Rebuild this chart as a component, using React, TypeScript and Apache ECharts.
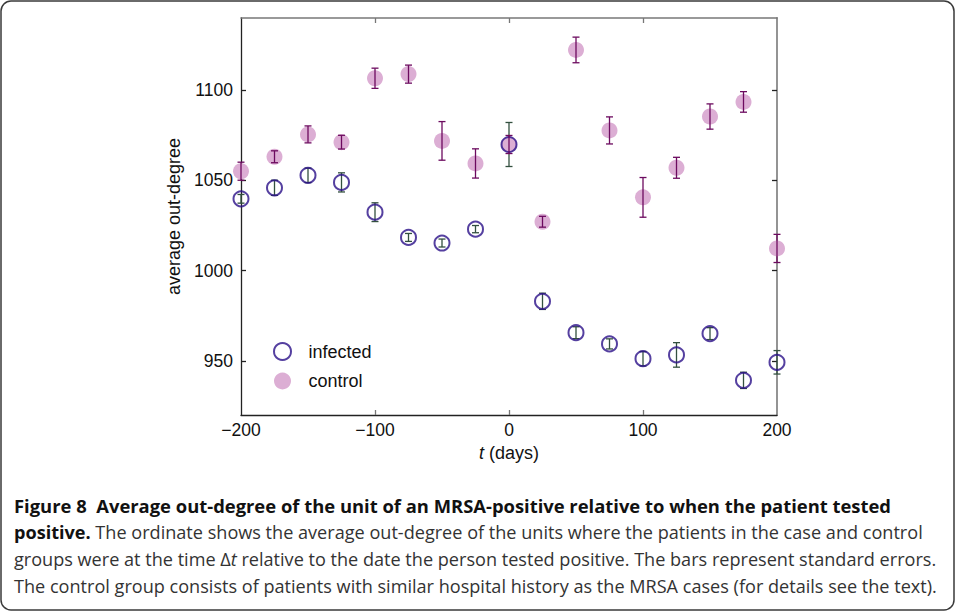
import React, { useEffect, useRef } from "react";
import * as echarts from "echarts";

const days = [-200, -175, -150, -125, -100, -75, -50, -25, 0, 25, 50, 75, 100, 125, 150, 175, 200];
const infectedMean = [1039.8, 1045.9, 1052.8, 1048.9, 1032.4, 1018.4, 1015.3, 1023.0, 1069.9, 983.0, 965.6, 959.4, 951.2, 953.3, 965.1, 939.2, 949.2];
const infectedErr = [2.4, 4.2, 4.0, 5.3, 5.2, 2.2, 2.2, 2.0, 12.2, 4.5, 3.3, 2.8, 4.0, 6.8, 3.3, 4.5, 6.5];
const controlMean = [1055.1, 1063.1, 1075.5, 1071.2, 1106.6, 1108.9, 1071.9, 1059.4, 1069.9, 1027.1, 1122.3, 1077.7, 1040.6, 1057.0, 1085.4, 1093.5, 1012.3];
const controlErr = [5.0, 3.3, 4.7, 3.8, 5.6, 5.0, 10.7, 8.1, 5.0, 3.0, 7.1, 7.5, 11.0, 5.8, 7.0, 5.7, 7.8];
const yTicks = [950, 1000, 1050, 1100];
const xInnerTicks = [-100, 0, 100];

const captionLines = [
  "Figure 8  Average out-degree of the unit of an MRSA-positive relative to when the patient tested",
  "{b|positive.} The ordinate shows the average out-degree of the units where the patients in the case and control",
  "groups were at the time Δ{i|t} relative to the date the person tested positive. The bars represent standard errors.",
  "The control group consists of patients with similar hospital history as the MRSA cases (for details see the text).",
];

const PINK = "#dcaed4";
const INDIGO = "#2a1088";
const CTRL_BAR = "#6c0a5f";
const INF_BAR = "#33503f";

function errorSeries(name: string, means: number[], errs: number[], color: string, z: number) {
  const data = days.map((d, i) => [d, means[i] - errs[i], means[i] + errs[i]]);
  return {
    type: "custom",
    name,
    z,
    silent: true,
    data,
    encode: { x: 0, y: [1, 2] },
    renderItem: (params: any, api: any) => {
      const x = api.value(0);
      const lo = api.coord([x, api.value(1)]);
      const hi = api.coord([x, api.value(2)]);
      const hw = 3.5;
      const style = { stroke: color, lineWidth: 1.3, fill: "none" };
      return {
        type: "group",
        children: [
          { type: "line", shape: { x1: lo[0], y1: lo[1], x2: hi[0], y2: hi[1] }, style },
          { type: "line", shape: { x1: lo[0] - hw, y1: lo[1], x2: lo[0] + hw, y2: lo[1] }, style },
          { type: "line", shape: { x1: hi[0] - hw, y1: hi[1], x2: hi[0] + hw, y2: hi[1] }, style },
        ],
      };
    },
  };
}

export default function App() {
  const ref = useRef<HTMLDivElement>(null);
  useEffect(() => {
    if (!ref.current) return;
    const chart = echarts.init(ref.current, undefined, { renderer: "svg" });
    const axisFont = "Liberation Sans";
    const capFont = "Open Sans";
    const capSize = 18.1;
    const option: any = {
      animation: false,
      backgroundColor: "#ffffff",
      grid: { left: 241, top: 18, right: 179, bottom: 198, containLabel: false },
      legend: {
        orient: "vertical",
        left: 268,
        top: 337,
        itemWidth: 42,
        itemHeight: 17,
        itemGap: 11,
        icon: "circle",
        data: [
          { name: "infected", itemStyle: { color: "rgba(255,255,255,0)", borderColor: INDIGO, borderWidth: 2 } },
          { name: "control", itemStyle: { color: PINK } },
        ],
        textStyle: { fontFamily: axisFont, fontSize: 18, color: "#111" },
      },
      xAxis: [
        {
          type: "value",
          min: -200,
          max: 200,
          interval: 100,
          position: "bottom",
          name: "{i|t} (days)",
          nameLocation: "middle",
          nameGap: 28,
          nameTextStyle: {
            fontFamily: axisFont,
            fontSize: 18,
            color: "#111",
            rich: { i: { fontStyle: "italic", fontFamily: axisFont, fontSize: 18, color: "#111" } },
          },
          axisLine: { onZero: false, lineStyle: { color: "#222", width: 1.3 } },
          axisTick: { inside: true, length: 5, customValues: xInnerTicks, lineStyle: { color: "#777", width: 1.3 } },
          axisLabel: {
            fontFamily: axisFont,
            fontSize: 17.5,
            color: "#111",
            margin: 6,
            formatter: (v: number) => (v < 0 ? "\u2212" + Math.abs(v) : String(v)),
          },
          splitLine: { show: false },
        },
        {
          type: "value",
          min: -200,
          max: 200,
          interval: 100,
          position: "top",
          axisLine: { onZero: false, lineStyle: { color: "#777", width: 1.6 } },
          axisTick: { inside: true, length: 5, customValues: xInnerTicks, lineStyle: { color: "#777", width: 1.3 } },
          axisLabel: { show: false },
          splitLine: { show: false },
        },
      ],
      yAxis: [
        {
          type: "value",
          min: 920,
          max: 1140,
          position: "left",
          name: "average out-degree",
          nameLocation: "middle",
          nameGap: 55,
          nameTextStyle: { fontFamily: axisFont, fontSize: 18, color: "#111" },
          axisLine: { show: true, onZero: false, lineStyle: { color: "#222", width: 1.3 } },
          axisTick: { show: true, inside: true, length: 5, customValues: yTicks, lineStyle: { color: "#222", width: 1.3 } },
          axisLabel: {
            fontFamily: axisFont,
            fontSize: 17.5,
            color: "#111",
            margin: 8,
            customValues: yTicks,
            formatter: (v: number) => String(v),
          },
          splitLine: { show: false },
        },
        {
          type: "value",
          min: 920,
          max: 1140,
          position: "right",
          axisLine: { show: true, onZero: false, lineStyle: { color: "#888", width: 1.8 } },
          axisTick: { show: true, inside: true, length: 5, customValues: yTicks, lineStyle: { color: "#222", width: 1.3 } },
          axisLabel: { show: false },
          splitLine: { show: false },
        },
      ],
      series: [
        errorSeries("infected-err", infectedMean, infectedErr, INF_BAR, 1),
        {
          type: "scatter",
          name: "control",
          z: 2,
          symbol: "circle",
          symbolSize: 16,
          itemStyle: { color: PINK, opacity: 1 },
          data: days.map((d, i) => [d, controlMean[i]]),
        },
        {
          type: "scatter",
          name: "infected",
          z: 3,
          symbol: "circle",
          symbolSize: 15,
          itemStyle: { color: "rgba(255,255,255,0)", borderColor: INDIGO, borderWidth: 2 },
          data: days.map((d, i) => [d, infectedMean[i]]),
        },
        errorSeries("control-err", controlMean, controlErr, CTRL_BAR, 4),
      ],
      graphic: [
        {
          type: "rect",
          silent: true,
          z: -1,
          shape: { x: 1, y: 1, width: 953, height: 609, r: 10 },
          style: { fill: "none", stroke: "#3a3a3a", lineWidth: 1.5 },
        },
        {
          type: "text",
          x: 14,
          y: 505,
          style: {
            text: captionLines[0],
            fontFamily: capFont,
            fontWeight: "bold",
            fontSize: 18.4,
            fill: "#111",
            verticalAlign: "middle",
          },
        },
        {
          type: "text",
          x: 14,
          y: 532,
          style: {
            text: captionLines[1],
            fontFamily: capFont,
            fontSize: capSize,
            fill: "#333",
            verticalAlign: "middle",
            rich: { b: { fontFamily: capFont, fontWeight: "bold", fontSize: capSize, fill: "#111" } },
          },
        },
        {
          type: "text",
          x: 14,
          y: 559,
          style: {
            text: captionLines[2],
            fontFamily: capFont,
            fontSize: capSize,
            fill: "#333",
            verticalAlign: "middle",
            rich: { i: { fontFamily: capFont, fontStyle: "italic", fontSize: capSize, fill: "#333" } },
          },
        },
        {
          type: "text",
          x: 14,
          y: 586,
          style: {
            text: captionLines[3],
            fontFamily: capFont,
            fontSize: capSize,
            fill: "#333",
            verticalAlign: "middle",
          },
        },
      ],
    };
    chart.setOption(option);
    return () => chart.dispose();
  }, []);
  return (
    <div
      ref={ref}
      style={{ position: "fixed", left: 0, top: 0, width: 956, height: 613, background: "#fff" }}
    />
  );
}
